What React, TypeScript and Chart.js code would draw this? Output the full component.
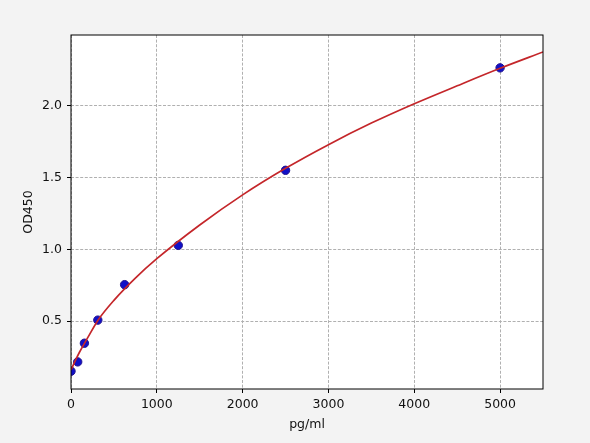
import { useEffect, useRef } from "react"
import { Chart, registerables } from "chart.js"

Chart.register(...registerables)

// standard points
const stdConc = [0, 78.125, 156.25, 312.5, 625, 1250, 2500, 5000]
const stdOD = [0.151, 0.216, 0.346, 0.507, 0.754, 1.028, 1.551, 2.265]

// fitted curve
const curveConc = [0, 50, 100, 156.25, 200, 312.5, 500, 750, 1000, 1500, 2000, 2500, 3000, 3500, 4000, 4500, 5000, 5500]
const curveOD = [0.16, 0.225, 0.285, 0.345, 0.39, 0.505, 0.645, 0.8, 0.935, 1.17, 1.38, 1.565, 1.73, 1.88, 2.015, 2.14, 2.262, 2.376]

const xTicks = [0, 1000, 2000, 3000, 4000, 5000]
const yTicks = [0.5, 1.0, 1.5, 2.0]

const FONT = "'DejaVu Sans', sans-serif"

const framePlugin = {
  id: "frame",
  beforeDraw(chart: any) {
    const { ctx, chartArea: a } = chart
    ctx.save()
    ctx.fillStyle = "#ffffff"
    ctx.fillRect(a.left, a.top, a.right - a.left, a.bottom - a.top)
    ctx.restore()
  },
  afterDatasetsDraw(chart: any) {
    const { ctx, chartArea: a } = chart
    ctx.save()
    ctx.strokeStyle = "#000000"
    ctx.lineWidth = 1
    ctx.strokeRect(a.left, a.top, a.right - a.left, a.bottom - a.top)
    ctx.restore()
  },
}

export default function App() {
  const chartRef = useRef<HTMLCanvasElement>(null)
  const chartInstance = useRef<Chart | null>(null)

  useEffect(() => {
    if (!chartRef.current) return
    if (chartInstance.current) chartInstance.current.destroy()
    const ctx = chartRef.current.getContext("2d")
    if (!ctx) return

    chartInstance.current = new Chart(ctx, {
      type: "scatter",
      data: {
        datasets: [
          {
            label: "fit",
            data: curveConc.map((x, i) => ({ x, y: curveOD[i] })),
            showLine: true,
            borderColor: "#c4262a",
            borderWidth: 1.7,
            pointRadius: 0,
            cubicInterpolationMode: "monotone",
          },
          {
            label: "std",
            data: stdConc.map((x, i) => ({ x, y: stdOD[i] })),
            backgroundColor: "#1010c8",
            borderColor: "#23138f",
            borderWidth: 1,
            pointRadius: 4.2,
          },
        ],
      },
      options: {
        animation: false,
        responsive: true,
        maintainAspectRatio: false,
        layout: { padding: { top: 35, right: 47, bottom: 0, left: 0 } },
        plugins: {
          legend: { display: false },
          tooltip: { enabled: false },
        },
        scales: {
          x: {
            type: "linear",
            min: 0,
            max: 5500,
            afterBuildTicks: (scale: any) => {
              scale.ticks = xTicks.map((value) => ({ value }))
            },
            afterFit: (scale: any) => {
              scale.height = 54
            },
            grid: {
              color: "#b0b0b0",
              lineWidth: 1,
              tickColor: "#000000",
              tickLength: 4,
              tickBorderDash: [],
            },
            border: { display: false, dash: [3, 1.6] },
            ticks: {
              color: "#111111",
              font: { family: FONT, size: 12.5 },
              padding: 4,
              maxRotation: 0,
              callback: (v: any) => String(v),
            },
            title: {
              display: true,
              text: "pg/ml",
              color: "#111111",
              font: { family: FONT, size: 12.5 },
              padding: { top: 0, bottom: 11 },
            },
          },
          y: {
            type: "linear",
            min: 0.027,
            max: 2.494,
            afterBuildTicks: (scale: any) => {
              scale.ticks = yTicks.map((value) => ({ value }))
            },
            afterFit: (scale: any) => {
              scale.width = 71
            },
            grid: {
              color: "#b0b0b0",
              lineWidth: 1,
              tickColor: "#000000",
              tickLength: 4,
              tickBorderDash: [],
            },
            border: { display: false, dash: [3, 1.6] },
            ticks: {
              color: "#111111",
              font: { family: FONT, size: 12.5 },
              padding: 5,
              callback: (v: any) => Number(v).toFixed(1),
            },
            title: {
              display: true,
              text: "OD450",
              color: "#111111",
              font: { family: FONT, size: 12.5 },
              padding: { top: 21, bottom: 0 },
            },
          },
        },
      },
      plugins: [framePlugin],
    })

    return () => {
      if (chartInstance.current) {
        chartInstance.current.destroy()
        chartInstance.current = null
      }
    }
  }, [])

  return (
    <div
      style={{
        position: "fixed",
        left: 0,
        top: 0,
        width: 590,
        height: 443,
        background: "#f3f3f3",
      }}
    >
      <canvas ref={chartRef} />
    </div>
  )
}
